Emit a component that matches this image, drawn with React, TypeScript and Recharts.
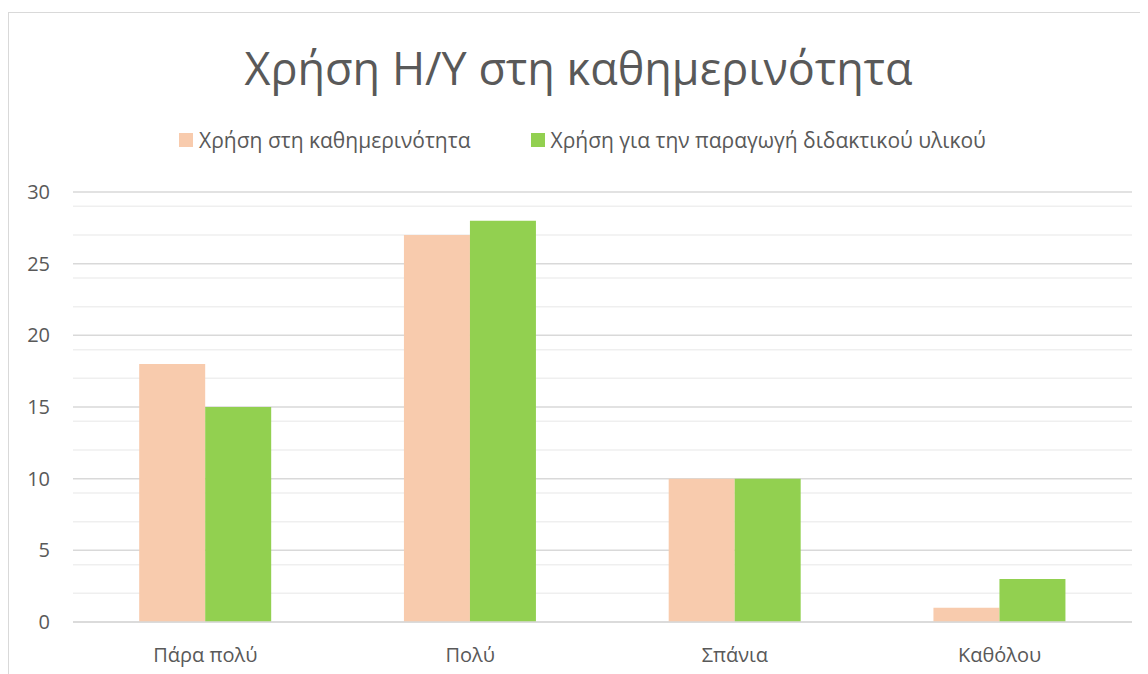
import React from "react";
import { BarChart, Bar, XAxis, YAxis, CartesianGrid } from "recharts";

const categories = ["Πάρα πολύ", "Πολύ", "Σπάνια", "Καθόλου"];
const dailyUse = [18, 27, 10, 1];
const materialUse = [15, 28, 10, 3];
const seriesNames = ["Χρήση στη καθημερινότητα", "Χρήση για την παραγωγή διδακτικού υλικού"];
const seriesColors = ["#F8CBAD", "#92D050"];
const majorTicks = [0, 5, 10, 15, 20, 25, 30];
const minorTicks = Array.from({ length: 31 }, (_, i) => i).filter((v) => v % 5 !== 0);

const data = categories.map((c, i) => ({ name: c, a: dailyUse[i], b: materialUse[i] }));

const FONT = "'Open Sans', 'Noto Sans', sans-serif";
const TEXT = "#595959";

export default function App() {
  const W = 1139;
  const H = 661;
  return (
    <div
      style={{
        position: "relative",
        marginTop: 4,
        width: W,
        height: H,
        borderTop: "1px solid #d9d9d9",
        borderLeft: "1px solid #d9d9d9",
        background: "#fff",
        overflow: "hidden",
      }}
    >
      <div
        style={{
          position: "absolute",
          top: 27,
          left: 0,
          width: W,
          textAlign: "center",
          fontFamily: FONT,
          fontSize: 45,
          color: TEXT,
          lineHeight: "56px",
        }}
      >
        Χρήση Η/Υ στη καθημερινότητα
      </div>
      <div
        style={{
          position: "absolute",
          top: 113,
          left: 0,
          width: W,
          display: "flex",
          justifyContent: "center",
          gap: 60,
          fontFamily: FONT,
          fontSize: 21,
          color: TEXT,
          lineHeight: "28px",
          paddingLeft: 8,
          boxSizing: "border-box",
        }}
      >
        {seriesNames.map((n, i) => (
          <div key={n} style={{ display: "flex", alignItems: "center" }}>
            <span style={{ display: "inline-block", width: 14, height: 14, background: seriesColors[i], marginRight: 6 }} />
            <span>{n}</span>
          </div>
        ))}
      </div>
      <div style={{ position: "absolute", top: 0, left: 0 }}>
        <BarChart
          width={W}
          height={H}
          data={data}
          margin={{ top: 179, right: 16, bottom: 22, left: 0 }}
          barCategoryGap="25%"
          barGap={0}
        >
          <CartesianGrid vertical={false} horizontalValues={minorTicks} stroke="#efefef" strokeWidth={1.5} />
          <CartesianGrid vertical={false} horizontalValues={majorTicks} stroke="#d9d9d9" strokeWidth={1.5} />
          <XAxis
            dataKey="name"
            axisLine={{ stroke: "#d9d9d9", strokeWidth: 1.5 }}
            tickLine={false}
            tickSize={0}
            tickMargin={26}
            tick={{ fill: TEXT, fontSize: 20, fontFamily: FONT }}
          />
          <YAxis
            domain={[0, 30]}
            ticks={majorTicks}
            width={64}
            axisLine={false}
            tickLine={false}
            tickSize={0}
            tickMargin={23}
            tick={{ fill: TEXT, fontSize: 20, fontFamily: FONT }}
          />
          <Bar dataKey="a" name={seriesNames[0]} fill={seriesColors[0]} isAnimationActive={false} />
          <Bar dataKey="b" name={seriesNames[1]} fill={seriesColors[1]} isAnimationActive={false} />
        </BarChart>
      </div>
    </div>
  );
}
